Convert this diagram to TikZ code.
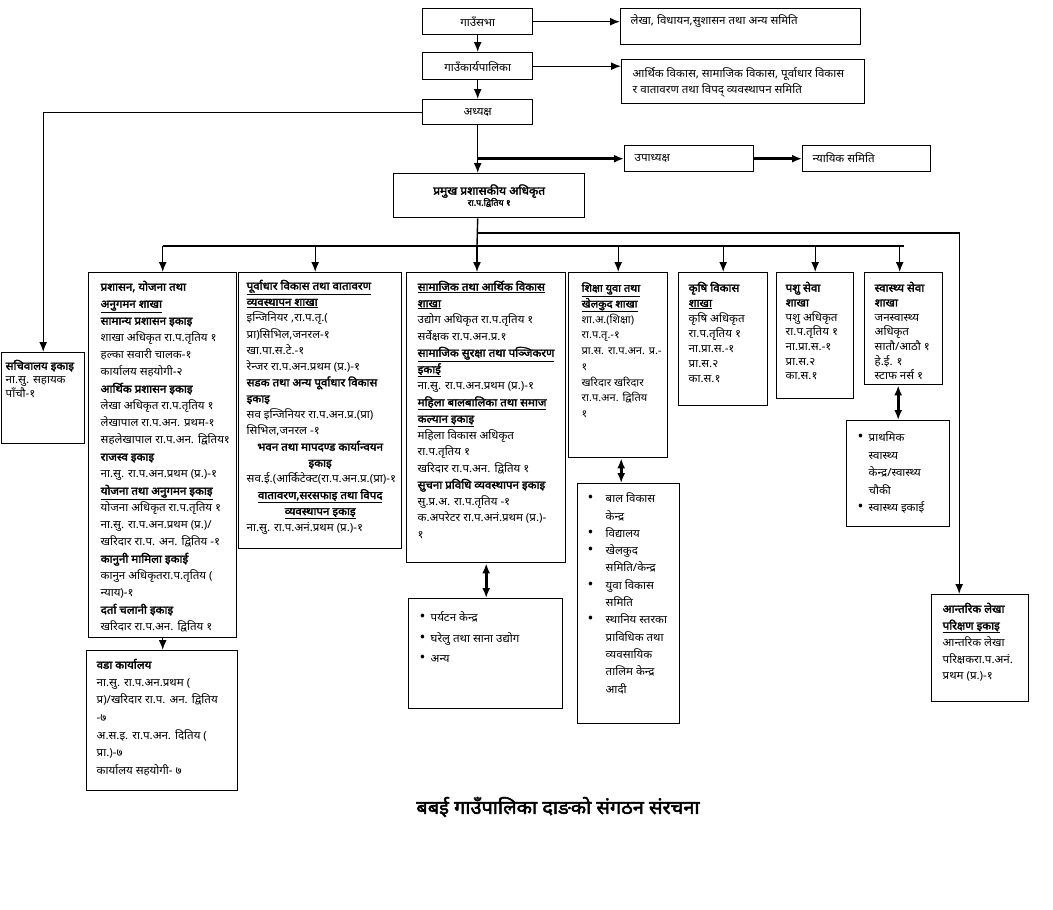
\documentclass[tikz,border=0pt]{standalone}
\usepackage{fontspec}
\setmainfont{Noto Sans}[Script=Devanagari, FakeStretch=1.05, BoldFont={Noto Sans}, BoldFeatures={FakeBold=2.5}]
\usepackage{tikz}
\usetikzlibrary{shapes, arrows.meta}
\setlength{\lineskiplimit}{-10pt}
\newcommand{\tp}{\rule{0pt}{12pt}}
\newcommand{\bul}{\fontsize{15}{15}\selectfont•}

\begin{document}
\begin{tikzpicture}[x=1pt, y=-1pt, >={Latex[length=10pt, width=8pt]}, line width=1.4pt,
  box/.style={draw, anchor=north west, inner sep=0pt},
  txt/.style={anchor=north west, inner sep=0pt, align=left},
  lead/.style={line width=2.6pt}]
\useasboundingbox (0,0) rectangle (1053,910);
\node[box, minimum width=110, minimum height=26, font=\fontsize{11}{13}\selectfont] (sabha) at (422,8) {गाउँसभा};
\node[box, minimum width=110, minimum height=27, font=\fontsize{11}{13}\selectfont] (karya) at (422,52) {गाउँकार्यपालिका};
\node[box, minimum width=110, minimum height=25, font=\fontsize{11}{13}\selectfont] (adhy) at (422,99) {अध्यक्ष};
\node[box, minimum width=240, minimum height=36] (lekha) at (620,8) {};
\node[txt, anchor=west, font=\fontsize{11}{13}\selectfont] (lekhat) at (630,21) {लेखा, विधायन,सुशासन तथा अन्य समिति};
\node[box, minimum width=243, minimum height=44] (arth) at (621,59) {};
\node[txt, font=\fontsize{11}{16}\selectfont] (artht) at (632,65) {\tp आर्थिक विकास, सामाजिक विकास, पूर्वाधार विकास\\र वातावरण तथा विपद् व्यवस्थापन समिति};
\node[box, minimum width=129, minimum height=26] (upa) at (624,145) {};
\node[txt, anchor=west, font=\fontsize{11}{13}\selectfont] (upat) at (634,158) {उपाध्यक्ष};
\node[box, minimum width=128, minimum height=26] (nyay) at (802,145) {};
\node[txt, anchor=west, font=\fontsize{11}{13}\selectfont] (nyayt) at (812,158) {न्यायिक समिति};
\node[box, minimum width=191, minimum height=44, align=center, font=\fontsize{11.5}{14}\selectfont\bfseries] (pramukh) at (393,173) {प्रमुख प्रशासकीय अधिकृत\\[-3pt]{\fontsize{8.5}{9}\selectfont रा.प.द्वितिय १}};

\node[box, minimum width=83, minimum height=91] (sach) at (1,352) {};
\node[txt, font=\fontsize{11}{13.7}\selectfont] (sacht) at (5,357) {\tp\textbf{सचिवालय इकाइ}\\ना.सु. सहायक\\पाँचौ-१};

\node[box, minimum width=148, minimum height=365] (b1) at (88,272) {};
\node[txt, font=\fontsize{11}{17}\selectfont] (b1t) at (100,278) {\tp\textbf{प्रशासन, योजना तथा}\\\textbf{\underline{अनुगमन शाखा}}\\\textbf{सामान्य प्रशासन इकाइ}\\शाखा अधिकृत रा.प.तृतिय १\\हल्का सवारी चालक-१\\कार्यालय सहयोगी-२\\\textbf{आर्थिक प्रशासन इकाइ}\\लेखा अधिकृत रा.प.तृतिय १\\लेखापाल रा.प.अन. प्रथम-१\\सहलेखापाल रा.प.अन. द्वितिय१\\\textbf{राजस्व इकाइ}\\ना.सु. रा.प.अन.प्रथम (प्र.)-१\\\textbf{\underline{योजना तथा अनुगमन इकाइ}}\\योजना अधिकृत रा.प.तृतिय १\\ना.सु. रा.प.अन.प्रथम (प्र.)/\\खरिदार रा.प. अन. द्वितिय -१\\\textbf{कानुनी मामिला इकाई}\\कानुन अधिकृतरा.प.तृतिय (\\न्याय)-१\\\textbf{दर्ता चलानी इकाइ}\\खरिदार रा.प.अन. द्वितिय १};

\node[box, minimum width=163, minimum height=276] (b2) at (238,272) {};
\node[txt, font=\fontsize{11}{16.1}\selectfont] (b2t) at (246,277) {\tp\textbf{\underline{पूर्वाधार विकास तथा वातावरण}}\\\textbf{\underline{व्यवस्थापन शाखा}}\\इन्जिनियर ,रा.प.तृ.(\\प्रा)सिभिल,जनरल-१\\खा.पा.स.टे.-१\\रेन्जर रा.प.अन.प्रथम (प्र.)-१\\\textbf{सडक तथा अन्य पूर्वाधार विकास}\\\textbf{इकाइ}\\सव इन्जिनियर रा.प.अन.प्र.(प्रा)\\सिभिल,जनरल -१\\\makebox[147pt][c]{\textbf{भवन तथा मापदण्ड कार्यान्वयन}}\\\makebox[147pt][c]{\textbf{इकाइ}}\\सव.ई.(आर्किटेक्ट(रा.प.अन.प्र.(प्रा)-१\\\makebox[147pt][c]{\textbf{\underline{वातावरण,सरसफाइ तथा विपद}}}\\\makebox[147pt][c]{\textbf{\underline{व्यवस्थापन इकाइ}}}\\ना.सु. रा.प.अनं.प्रथम (प्र.)-१};

\node[box, minimum width=159, minimum height=290] (b3) at (406,272) {};
\node[txt, font=\fontsize{11}{16.5}\selectfont] (b3t) at (417,278) {\tp\textbf{\underline{सामाजिक तथा आर्थिक विकास}}\\\textbf{\underline{शाखा}}\\उद्योग अधिकृत रा.प.तृतिय १\\सर्वेक्षक रा.प.अन.प्र.१\\\textbf{\underline{सामाजिक सुरक्षा तथा पञ्जिकरण}}\\\textbf{\underline{इकाई}}\\ना.सु. रा.प.अन.प्रथम (प्र.)-१\\\textbf{\underline{महिला बालबालिका तथा समाज}}\\\textbf{\underline{कल्यान इकाइ}}\\महिला विकास अधिकृत\\रा.प.तृतिय १\\खरिदार रा.प.अन. द्वितिय १\\\textbf{सुचना प्रविधि व्यवस्थापन इकाइ}\\सु.प्र.अ. रा.प.तृतिय -१\\क.अपरेटर रा.प.अनं.प्रथम (प्र.)-\\१};

\node[box, minimum width=99, minimum height=185] (b4) at (568,272) {};
\node[txt, font=\fontsize{10.5}{15.75}\selectfont] (b4t) at (581,279) {\tp\textbf{\underline{शिक्षा युवा तथा}}\\\textbf{\underline{खेलकुद शाखा}}\\शा.अ.(शिक्षा)\\रा.प.तृ.-१\\प्रा.स. रा.प.अन. प्र.-\\१\\खरिदार खरिदार\\रा.प.अन. द्वितिय\\१};

\node[box, minimum width=89, minimum height=133] (b5) at (678,272) {};
\node[txt, font=\fontsize{11}{15.2}\selectfont] (b5t) at (688,279) {\tp\textbf{कृषि विकास}\\\textbf{\underline{शाखा}}\\कृषि अधिकृत\\रा.प.तृतिय १\\ना.प्रा.स.-१\\प्रा.स.२\\का.स.१};

\node[box, minimum width=77, minimum height=126] (b6) at (776,272) {};
\node[txt, font=\fontsize{11}{14.7}\selectfont] (b6t) at (785,279) {\tp\textbf{पशु सेवा}\\\textbf{शाखा}\\पशु अधिकृत\\रा.प.तृतिय १\\ना.प्रा.स.-१\\प्रा.स.२\\का.स.१};

\node[box, minimum width=78, minimum height=112] (b7) at (864,272) {};
\node[txt, font=\fontsize{11}{14.7}\selectfont] (b7t) at (874,279) {\tp\textbf{स्वास्थ्य सेवा}\\\textbf{शाखा}\\जनस्वास्थ्य\\अधिकृत\\सातौ/आठौ १\\हे.ई. १\\स्टाफ नर्स १};

\node[box, minimum width=151, minimum height=140] (ward) at (86,650) {};
\node[txt, font=\fontsize{11}{17.6}\selectfont] (wardt) at (96,656) {\tp\textbf{वडा कार्यालय}\\ना.सु. रा.प.अन.प्रथम (\\प्र)/खरिदार रा.प. अन. द्वितिय\\-७\\अ.स.इ. रा.प.अन. दितिय (\\प्रा.)-७\\कार्यालय सहयोगी- ७};

\node[box, minimum width=154, minimum height=110] (pary) at (408,598) {};
\node[txt, font=\fontsize{11}{20.5}\selectfont] (paryt) at (419,609) {\tp\makebox[11pt][l]{\bul}पर्यटन केन्द्र\\\makebox[11pt][l]{\bul}घरेलु तथा साना उद्योग\\\makebox[11pt][l]{\bul}अन्य};

\node[box, minimum width=102, minimum height=240] (bal) at (577,483) {};
\node[txt, font=\fontsize{11}{17.3}\selectfont] (balt) at (587,490) {\tp\makebox[18pt][l]{\bul}बाल विकास\\\makebox[18pt][l]{}केन्द्र\\\makebox[18pt][l]{\bul}विद्यालय\\\makebox[18pt][l]{\bul}खेलकुद\\\makebox[18pt][l]{}समिति/केन्द्र\\\makebox[18pt][l]{\bul}युवा विकास\\\makebox[18pt][l]{}समिति\\\makebox[18pt][l]{\bul}स्थानिय स्तरका\\\makebox[18pt][l]{}प्राविधिक तथा\\\makebox[18pt][l]{}व्यवसायिक\\\makebox[18pt][l]{}तालिम केन्द्र\\\makebox[18pt][l]{}आदी};

\node[box, minimum width=103, minimum height=106] (prath) at (846,420) {};
\node[txt, font=\fontsize{11}{17.5}\selectfont] (pratht) at (857,429) {\tp\makebox[11pt][l]{\bul}प्राथमिक\\\makebox[11pt][l]{}स्वास्थ्य\\\makebox[11pt][l]{}केन्द्र/स्वास्थ्य\\\makebox[11pt][l]{}चौकी\\\makebox[11pt][l]{\bul}स्वास्थ्य इकाई};

\node[box, minimum width=97, minimum height=107] (antar) at (931,594) {};
\node[txt, font=\fontsize{11}{16.8}\selectfont] (antart) at (942,600) {\tp\textbf{आन्तरिक लेखा}\\\textbf{\underline{परिक्षण इकाइ}}\\आन्तरिक लेखा\\परिक्षकरा.प.अनं.\\प्रथम (प्र.)-१};

\node[font=\fontsize{19}{21}\selectfont\bfseries] (title) at (558,807) {बबई गाउँपालिका दाङको संगठन संरचना};

\coordinate (u) at (adhy.south |- upa.west);
\coordinate (p) at (adhy.south |- pramukh.south);
\coordinate (a) at (477,233);
\coordinate (bus) at (477,246);
\draw[->] (sabha) -- (karya);
\draw[->] (karya) -- (adhy);
\draw[->] (sabha.east) -- (sabha.east -| lekha.west);
\draw[->] (karya.east) -- (karya.east -| arth.west);
\draw[->] (adhy.west) -| (sach.north);
\draw[->] (adhy.south) -- (adhy.south |- pramukh.north);
\draw[->, lead] (u) -- (upa.west);
\draw[->, lead] (upa) -- (nyay);
\draw (p) -- (bus);
\draw[->] (a) -| ([xshift=-21]antar.north);
\draw (bus -| b1.north) -- (bus -| b7.north);
\draw[->] (bus -| b1.north) -- (b1.north);
\draw[->] ([xshift=-5]bus -| b2.north) -- ([xshift=-5]b2.north);
\draw[->] (bus) -- (bus |- b3.north);
\draw[->] (bus -| b4.north) -- (b4.north);
\draw[->] (bus -| b5.north) -- (b5.north);
\draw[->] (bus -| b6.north) -- (b6.north);
\draw[->] ([xshift=-4]bus -| b7.north) -- ([xshift=-4]b7.north);
\draw[->] (b1.south) -- (b1.south |- ward.north);
\draw[<->, lead] (b3.south) -- (b3.south |- pary.north);
\draw[<->, lead] ([xshift=3]b4.south) -- ([xshift=3]b4.south |- bal.north);
\draw[<->, lead] (prath.north |- b7.south) -- (prath.north);
\end{tikzpicture}
\end{document}
